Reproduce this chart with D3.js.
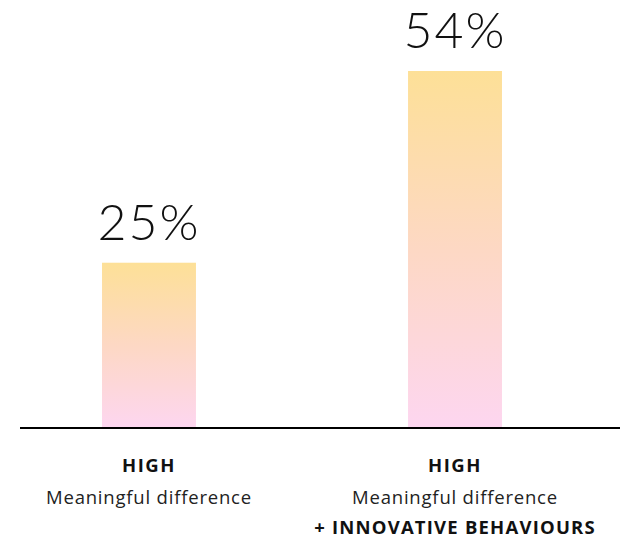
<!DOCTYPE html>
<html>
<head>
<meta charset="utf-8">
<script src="https://cdn.jsdelivr.net/npm/d3@7"></script>
<style>
    body { margin: 0; background: #fff; }
    svg { display: block; font-family: "Open Sans", "Lato", sans-serif; }
</style>
</head>
<body>
<div id="chart"></div>
<script>
// chart values
const categories = ["high", "high-innovative"];
const values = [25, 54];
const headLabels = ["HIGH", "HIGH"];
const subLabels = ["Meaningful difference", "Meaningful difference"];
const extraLabels = ["", "+ INNOVATIVE BEHAVIOURS"];

const width = 627, height = 538;
const baseY = 428;

const svg = d3.select("#chart").append("svg")
    .attr("width", width)
    .attr("height", height);

// vertical gradient, yellow on top to pink at the base
const grad = svg.append("defs").append("linearGradient")
    .attr("id", "barGrad")
    .attr("x1", 0).attr("y1", 0)
    .attr("x2", 0).attr("y2", 1);
grad.append("stop").attr("offset", "0%").attr("stop-color", "#fde097");
grad.append("stop").attr("offset", "50%").attr("stop-color", "#fdd8c4");
grad.append("stop").attr("offset", "100%").attr("stop-color", "#fdd6f0");

const x = d3.scaleBand()
    .domain(categories)
    .range([20, 584])
    .paddingInner(0.693)
    .paddingOuter(0.268);

const y = d3.scaleLinear()
    .domain([0, 54])
    .range([baseY, 71]);

// bars
svg.selectAll("rect.bar")
    .data(values)
    .enter()
    .append("rect")
    .attr("class", "bar")
    .attr("x", (d, i) => x(categories[i]))
    .attr("y", d => y(d))
    .attr("width", x.bandwidth())
    .attr("height", d => y(0) - y(d))
    .attr("fill", "url(#barGrad)");

// value labels
svg.selectAll("text.value")
    .data(values)
    .enter()
    .append("text")
    .attr("class", "value")
    .attr("x", (d, i) => x(categories[i]) + x.bandwidth() / 2)
    .attr("y", d => y(d) - 23)
    .attr("text-anchor", "middle")
    .attr("font-family", "Lato, sans-serif")
    .attr("font-size", 50)
    .attr("font-weight", 300)
    .attr("letter-spacing", 2)
    .attr("fill", "#111")
    .text(d => d + "%");

// baseline
svg.append("line")
    .attr("x1", 20).attr("x2", 620)
    .attr("y1", baseY).attr("y2", baseY)
    .attr("stroke", "#000")
    .attr("stroke-width", 2);

// category labels
const lab = svg.selectAll("g.cat")
    .data(categories)
    .enter()
    .append("g")
    .attr("class", "cat")
    .attr("transform", d => `translate(${x(d) + x.bandwidth() / 2}, 0)`);

lab.append("text")
    .attr("y", 472)
    .attr("text-anchor", "middle")
    .attr("font-size", 18.5)
    .attr("font-weight", 700)
    .attr("letter-spacing", 1.5)
    .attr("fill", "#111")
    .text((d, i) => headLabels[i]);

lab.append("text")
    .attr("y", 504)
    .attr("text-anchor", "middle")
    .attr("font-size", 18.5)
    .attr("letter-spacing", 0.8)
    .attr("fill", "#222")
    .text((d, i) => subLabels[i]);

lab.append("text")
    .attr("y", 534)
    .attr("text-anchor", "middle")
    .attr("font-size", 18.5)
    .attr("font-weight", 700)
    .attr("letter-spacing", 1.2)
    .attr("fill", "#111")
    .text((d, i) => extraLabels[i]);
</script>
</body>
</html>
